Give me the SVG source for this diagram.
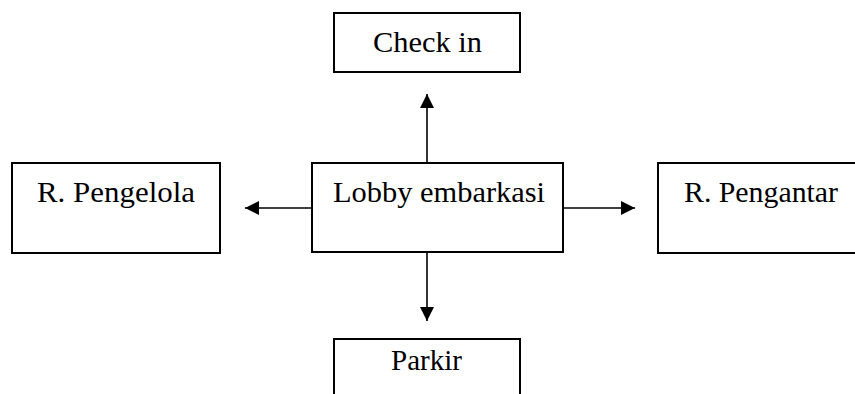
<svg xmlns="http://www.w3.org/2000/svg" width="855" height="394" viewBox="0 0 855 394">
<style>
.box{fill:#fff;stroke:#000;stroke-width:2}
.lbl{font-family:"Liberation Serif","Times New Roman",serif;font-size:30px;fill:#000}
.con{stroke:#000;stroke-width:1.6;fill:none}
</style>
<defs>
<marker id="ah" viewBox="0 0 10 10" refX="10" refY="5" markerWidth="15" markerHeight="14" markerUnits="userSpaceOnUse" orient="auto">
<path d="M0,0 L10,5 L0,10 Z" fill="#000"/>
</marker>
</defs>
<rect width="855" height="394" fill="#fff"/>
<g id="connectors">
<line class="con" x1="427" y1="163" x2="427" y2="94" marker-end="url(#ah)"/>
<line class="con" x1="312" y1="208" x2="245" y2="208" marker-end="url(#ah)"/>
<line class="con" x1="563" y1="208" x2="635" y2="208" marker-end="url(#ah)"/>
<line class="con" x1="427" y1="252" x2="427" y2="321" marker-end="url(#ah)"/>
</g>
<g id="checkin">
<rect class="box" x="334" y="13" width="186" height="59"/>
<text class="lbl" x="373" y="52" textLength="109" lengthAdjust="spacingAndGlyphs">Check in</text>
</g>
<g id="pengelola">
<rect class="box" x="12" y="163" width="208" height="90"/>
<text class="lbl" x="37" y="202" textLength="158" lengthAdjust="spacingAndGlyphs">R. Pengelola</text>
</g>
<g id="lobby">
<rect class="box" x="312" y="163" width="251" height="89"/>
<text class="lbl" x="333" y="202" textLength="212" lengthAdjust="spacingAndGlyphs">Lobby embarkasi</text>
</g>
<g id="pengantar">
<rect class="box" x="658" y="163" width="210" height="90"/>
<text class="lbl" x="684" y="202" textLength="154" lengthAdjust="spacingAndGlyphs">R. Pengantar</text>
</g>
<g id="parkir">
<rect class="box" x="334" y="339" width="186" height="70"/>
<text class="lbl" x="391" y="370" textLength="71" lengthAdjust="spacingAndGlyphs">Parkir</text>
</g>
</svg>
